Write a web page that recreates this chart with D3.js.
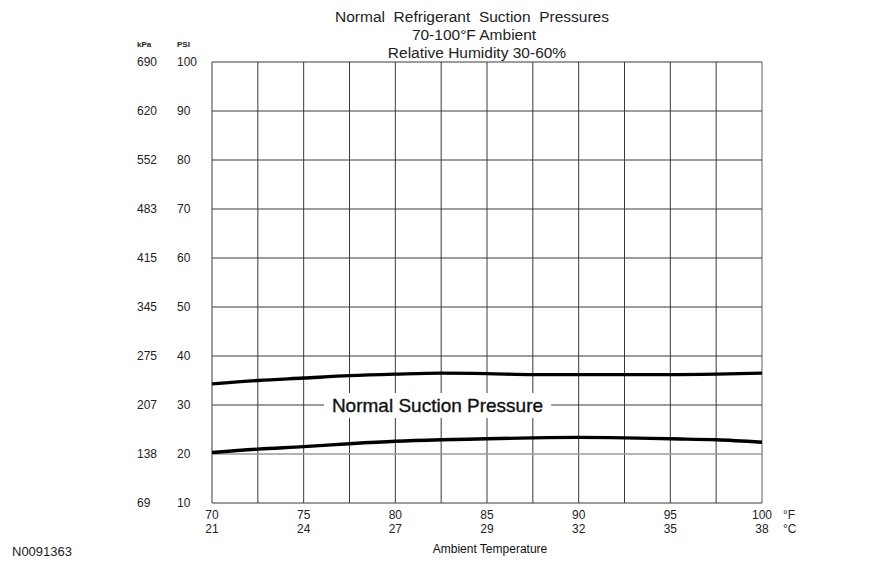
<!DOCTYPE html>
<html><head><meta charset="utf-8">
<script src="https://cdn.jsdelivr.net/npm/d3@7"></script>
<style>html,body{margin:0;padding:0;background:#fff;}svg{display:block;font-family:"Liberation Sans",Arial,sans-serif;}</style>
</head><body>
<svg id="c" width="870" height="568"></svg>
<script>
const titleLines = ["Normal  Refrigerant  Suction  Pressures", "70-100°F Ambient", "Relative Humidity 30-60%"];
const psiTicks = [10, 20, 30, 40, 50, 60, 70, 80, 90, 100];
const kpaLabels = ["69", "138", "207", "275", "345", "415", "483", "552", "620", "690"];
const fTicks = [70, 75, 80, 85, 90, 95, 100];
const cLabels = ["21", "24", "27", "29", "32", "35", "38"];
const gridF = [70, 72.5, 75, 77.5, 80, 82.5, 85, 87.5, 90, 92.5, 95, 97.5, 100];
const tempF = [70, 72.5, 75, 77.5, 80, 82.5, 85, 87.5, 90, 92.5, 95, 97.5, 100];
const upperPsi = [34.3, 35.0, 35.5, 36.0, 36.3, 36.5, 36.4, 36.2, 36.2, 36.2, 36.2, 36.3, 36.5];
const lowerPsi = [20.3, 21.0, 21.5, 22.1, 22.6, 22.9, 23.1, 23.3, 23.4, 23.3, 23.1, 22.9, 22.4];
const bandLabel = "Normal Suction Pressure";
const xTitle = "Ambient Temperature";
const figId = "N0091363";

const svg = d3.select("#c");
const L = 212, R = 762, T = 62, B = 503;
const x = d3.scaleLinear().domain([70, 100]).range([L, R]);
const y = d3.scaleLinear().domain([10, 100]).range([B, T]);

// grid
const g = svg.append("g");
g.selectAll("line.v").data(gridF).join("line")
  .attr("x1", d => x(d)).attr("x2", d => x(d)).attr("y1", T).attr("y2", B)
  .attr("stroke", d => d === 100 ? "#9a9a9a" : "#3a3a3a")
  .attr("stroke-width", d => d === 100 ? 1.6 : 1);
g.selectAll("line.h").data(psiTicks).join("line")
  .attr("x1", L).attr("x2", R).attr("y1", d => y(d)).attr("y2", d => y(d))
  .attr("stroke", d => d === 20 ? "#9a9a9a" : "#3a3a3a")
  .attr("stroke-width", d => d === 20 ? 1.6 : 1);

// curves
const line = d3.line().x((d, i) => x(tempF[i])).y(d => y(d)).curve(d3.curveMonotoneX);
[upperPsi, lowerPsi].forEach(s => {
  svg.append("path").attr("d", line(s)).attr("fill", "none")
    .attr("stroke", "#000").attr("stroke-width", 3.4).attr("stroke-linecap", "butt");
});

// band label with white knock-out
const lbl = svg.append("text").attr("x", 437.5).attr("y", y(30)).attr("dy", "0.35em")
  .attr("text-anchor", "middle").attr("font-size", 19).attr("fill", "#111")
  .attr("stroke", "#111").attr("stroke-width", 0.35).text(bandLabel);
const bb = lbl.node().getBBox();
svg.insert("rect", "text").attr("x", bb.x - 8).attr("y", y(30) - 12).attr("width", bb.width + 16).attr("height", 25).attr("fill", "#fff");

// titles
const tPos = [[472, 17], [474, 35], [477, 53]];
titleLines.forEach((t, i) => {
  svg.append("text").attr("x", tPos[i][0]).attr("y", tPos[i][1]).attr("dy", "0.35em")
    .attr("text-anchor", "middle").attr("font-size", 15.5).attr("fill", "#222")
    .style("white-space", "pre").attr("xml:space", "preserve").text(t);
});

// y labels
svg.append("text").attr("x", 137).attr("y", 44).attr("dy", "0.35em").attr("font-size", 8).attr("font-weight", "bold").attr("fill", "#222").text("kPa");
svg.append("text").attr("x", 177).attr("y", 44).attr("dy", "0.35em").attr("font-size", 8).attr("font-weight", "bold").attr("fill", "#222").text("PSI");
svg.selectAll("text.kpa").data(psiTicks).join("text")
  .attr("x", 137).attr("y", d => y(d)).attr("dy", "0.35em").attr("font-size", 12).attr("fill", "#222")
  .text((d, i) => kpaLabels[i]);
svg.selectAll("text.psi").data(psiTicks).join("text")
  .attr("x", 177).attr("y", d => y(d)).attr("dy", "0.35em").attr("font-size", 12).attr("fill", "#222")
  .text(d => d);

// x labels
svg.selectAll("text.f").data(fTicks).join("text")
  .attr("x", d => x(d)).attr("y", 515).attr("dy", "0.35em").attr("text-anchor", "middle")
  .attr("font-size", 12).attr("fill", "#222").text(d => d);
svg.selectAll("text.c").data(fTicks).join("text")
  .attr("x", d => x(d)).attr("y", 529).attr("dy", "0.35em").attr("text-anchor", "middle")
  .attr("font-size", 12).attr("fill", "#222").text((d, i) => cLabels[i]);
svg.append("text").attr("x", 783).attr("y", 515).attr("dy", "0.35em").attr("font-size", 12).attr("fill", "#222").text("°F");
svg.append("text").attr("x", 783).attr("y", 529).attr("dy", "0.35em").attr("font-size", 12).attr("fill", "#222").text("°C");
svg.append("text").attr("x", 490).attr("y", 549).attr("dy", "0.35em").attr("text-anchor", "middle").attr("font-size", 12).attr("fill", "#111").text(xTitle);
svg.append("text").attr("x", 12).attr("y", 551).attr("dy", "0.35em").attr("font-size", 13).attr("fill", "#222").text(figId);
</script>
</body></html>
